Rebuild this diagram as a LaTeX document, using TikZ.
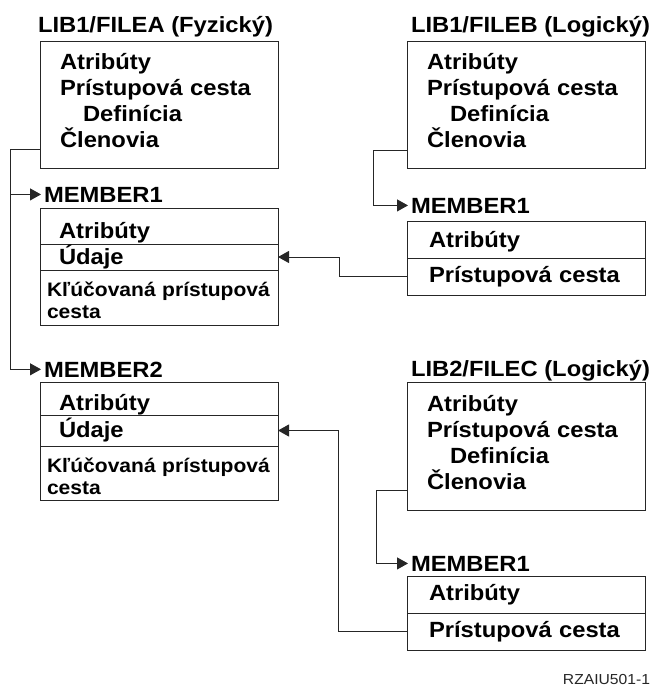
\documentclass[tikz,border=0pt]{standalone}
\usepackage{fontspec}
\setmainfont{Liberation Sans}[FakeStretch=1.08]
\usepackage{tikz}
\usetikzlibrary{arrows.meta,positioning}
\newcommand{\lowpad}{\rule[-8pt]{0pt}{8pt}}
\newcommand{\toppad}{\rule{0pt}{21pt}}

\begin{document}
\begin{tikzpicture}[x=1pt, y=-1pt, every node/.style={font=\bfseries\fontsize{22}{26}\selectfont, outer sep=0pt}, ttl/.style={anchor=base west, inner sep=3pt}, filebox/.style={draw=black!85, line width=1pt, anchor=north west, minimum width=238pt, minimum height=127pt, text width=198pt, inner xsep=20pt, align=left}, part/.style={draw=black!85, line width=1pt, minimum width=238pt, text width=200pt, inner xsep=19pt, inner ysep=0pt, align=left}, toppart/.style={part, text height=24pt, text depth=0pt}, keypart/.style={part, text width=224pt, inner xsep=7pt, font=\bfseries\fontsize{19.5}{22}\selectfont}, lpart/.style={part, text width=194pt, inner xsep=22pt}, arr/.style={-{Triangle[length=11pt,width=12pt]}, line width=1pt, draw=black!85}]
\useasboundingbox (0,0) rectangle (653,688);
\node[ttl] (tA) at (35,32) {LIB1/FILEA (Fyzický)};
\node[filebox] (fileA) at (40,41) {Atribúty\\Prístupová cesta\\\hspace*{23pt}Definícia\\Členovia\lowpad};
\node[ttl] (m1lbl) at (41,202) {MEMBER1};
\node[toppart, anchor=north west, minimum height=36pt] (m1a) at (40,208) {Atribúty};
\node[part, below=0pt of m1a, minimum height=26pt] (m1b) {Údaje};
\node[keypart, below=0pt of m1b, minimum height=55pt] (m1c) {\toppad Kľúčovaná prístupová\\cesta};
\node[ttl] (m2lbl) at (41,377) {MEMBER2};
\node[toppart, anchor=north west, minimum height=33pt] (m2a) at (40,382) {Atribúty};
\node[part, below=0pt of m2a, minimum height=31pt] (m2b) {Údaje};
\node[keypart, below=0pt of m2b, minimum height=54pt] (m2c) {\toppad Kľúčovaná prístupová\\cesta};
\node[ttl] (tB) at (408,32) {LIB1/FILEB (Logický)};
\node[filebox] (fileB) at (407,41) {Atribúty\\Prístupová cesta\\\hspace*{23pt}Definícia\\Členovia\lowpad};
\node[ttl] (bm1lbl) at (408,213) {MEMBER1};
\node[lpart, text depth=0pt, anchor=north west, minimum height=37pt] (bm1a) at (407,221) {Atribúty};
\node[lpart, below=0pt of bm1a, minimum height=37pt] (bm1b) {Prístupová cesta};
\node[ttl] (tC) at (408,376) {LIB2/FILEC (Logický)};
\node[filebox, minimum height=128pt] (fileC) at (407,382) {Atribúty\\Prístupová cesta\\\hspace*{23pt}Definícia\\Členovia\lowpad};
\node[ttl] (cm1lbl) at (408,571) {MEMBER1};
\node[lpart, anchor=north west, minimum height=37pt] (cm1a) at (407,576) {Atribúty};
\node[lpart, below=0pt of cm1a, minimum height=37pt] (cm1b) {Prístupová cesta};
\node[font=\fontsize{14.5}{16}\selectfont, text=black!85, anchor=base east, inner sep=0pt] (code) at (650,684) {RZAIU501-1};
\draw[arr] ([yshift=19pt]fileA.south west) -- ++(-30,0) |- (m1lbl.west);
\draw[arr] ([yshift=19pt]fileA.south west) -- ++(-30,0) |- (m2lbl.west);
\draw[arr] ([yshift=18pt]fileB.south west) -- ++(-34,0) |- (bm1lbl.west);
\draw[arr] ([yshift=20pt]fileC.south west) -- ++(-31,0) |- (cm1lbl.west);
\draw[arr] (bm1b.west) -- ++(-68,0) |- (m1b.east);
\draw[arr] (cm1b.west) -- ++(-69,0) |- (m2b.east);
\end{tikzpicture}
\end{document}
